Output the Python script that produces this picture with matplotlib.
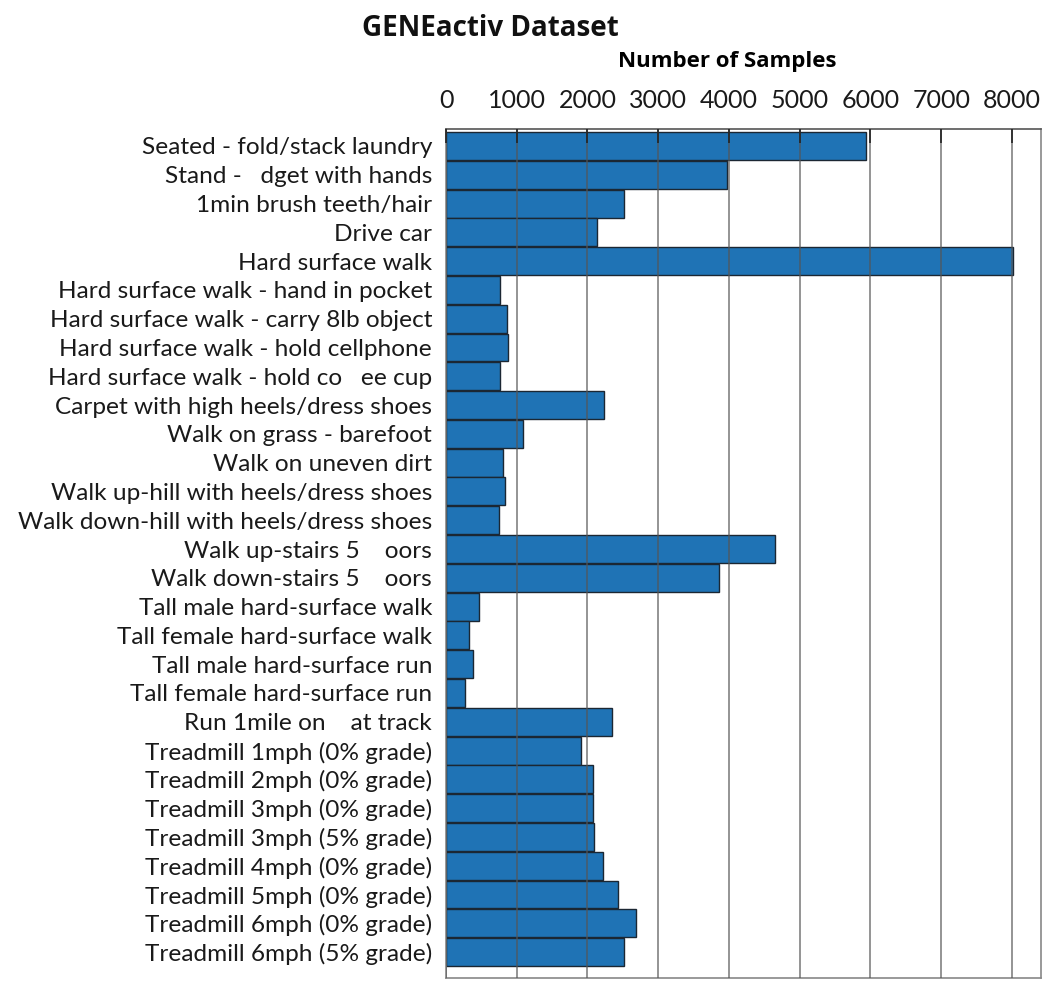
import matplotlib
matplotlib.use("Agg")
import matplotlib.pyplot as plt

activities = [
    "Seated - fold/stack laundry",
    "Stand -   dget with hands",
    "1min brush teeth/hair",
    "Drive car",
    "Hard surface walk",
    "Hard surface walk - hand in pocket",
    "Hard surface walk - carry 8lb object",
    "Hard surface walk - hold cellphone",
    "Hard surface walk - hold co   ee cup",
    "Carpet with high heels/dress shoes",
    "Walk on grass - barefoot",
    "Walk on uneven dirt",
    "Walk up-hill with heels/dress shoes",
    "Walk down-hill with heels/dress shoes",
    "Walk up-stairs 5    oors",
    "Walk down-stairs 5    oors",
    "Tall male hard-surface walk",
    "Tall female hard-surface walk",
    "Tall male hard-surface run",
    "Tall female hard-surface run",
    "Run 1mile on    at track",
    "Treadmill 1mph (0% grade)",
    "Treadmill 2mph (0% grade)",
    "Treadmill 3mph (0% grade)",
    "Treadmill 3mph (5% grade)",
    "Treadmill 4mph (0% grade)",
    "Treadmill 5mph (0% grade)",
    "Treadmill 6mph (0% grade)",
    "Treadmill 6mph (5% grade)",
]
samples = [5940, 3970, 2510, 2140, 8020, 760, 867, 877, 768, 2229, 1084, 806,
           834, 745, 4656, 3860, 462, 330, 377, 269, 2352, 1909, 2074, 2078,
           2092, 2224, 2432, 2691, 2517]
x_ticks = [0, 1000, 2000, 3000, 4000, 5000, 6000, 7000, 8000]

plt.rcParams['font.family'] = ['Lato', 'DejaVu Sans']

fig = plt.figure(figsize=(10.5, 9.91), dpi=100)
ax = fig.add_axes([446/1050, 1-978/991, (1041-446)/1050, (978-129)/991])

y = list(range(len(activities)))
ax.barh(y, samples, height=0.97, color='#1f73b5', edgecolor='#1b2733',
        linewidth=1.0, zorder=2)

ax.set_xlim(0, 8410)
ax.set_ylim(28.9, -0.59)
ax.set_yticks(y)
ax.set_yticklabels(activities, fontsize=17.6, color='#1a1a1a')
ax.tick_params(axis='y', length=0, pad=10)

ax.xaxis.tick_top()
ax.xaxis.set_label_position('top')
ax.set_xticks(x_ticks)
ax.set_xticklabels([str(t) for t in x_ticks], fontsize=18, color='#1a1a1a')
ax.tick_params(axis='x', direction='in', length=10, width=1.2, color='#222222', pad=12)
ax.set_xlabel("Number of Samples", fontsize=16, fontweight='bold', labelpad=16,
              family=['Open Sans', 'DejaVu Sans'])
ax.xaxis.label.set_x((727 - 446) / (1041 - 446))

ax.grid(axis='x', color='#555555', linewidth=1.1, alpha=0.8, zorder=3)
ax.set_axisbelow(False)
for s in ax.spines.values():
    s.set_color('#888888')
    s.set_linewidth(1.2)
ax.spines['top'].set_color('#555555')

fig.text(490/1050, 1-28/991, "GENEactiv Dataset", fontsize=20, fontweight='bold',
         ha='center', va='center', color='#111111', family=['Open Sans', 'DejaVu Sans'])

fig.savefig("out.png", dpi=100)
